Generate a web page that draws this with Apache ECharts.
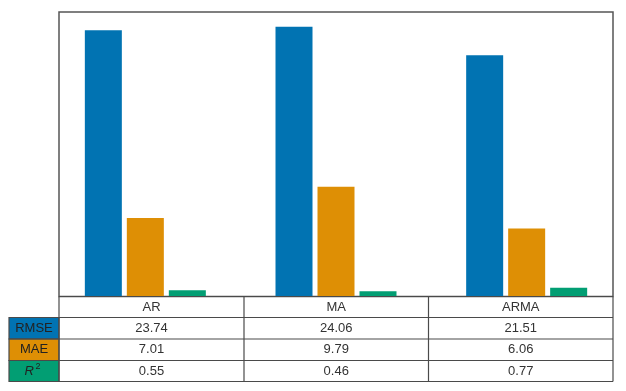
<!DOCTYPE html>
<html>
<head>
<meta charset="utf-8">
<script src="https://cdn.jsdelivr.net/npm/echarts@6/dist/echarts.min.js"></script>
<style>
  html, body { margin: 0; padding: 0; background: #fff; }
  #chart { width: 626px; height: 391px; }
</style>
</head>
<body>
<div id="chart"></div>
<script>
// model comparison: bars per error metric, with a data table underneath
var categories = ["AR", "MA", "ARMA"];
var metricNames = ["RMSE", "MAE", "R2"];
var rmse = [23.74, 24.06, 21.51];
var mae = [7.01, 9.79, 6.06];
var r2 = [0.55, 0.46, 0.77];

var colors = ["#0173b2", "#de8f05", "#029e73"];
var lineCol = "#4a4a4a";
var font = "'Liberation Sans', Arial, sans-serif";

// table geometry (px)
var colX = [59, 244, 428.5, 613];
var rowY = [296.5, 317.5, 339, 360.5, 381.5];
var labX = 9;

function tableGraphic() {
  var g = [];
  var series = [rmse, mae, r2];
  // coloured label cells
  metricNames.forEach(function (m, i) {
    g.push({ type: "rect", shape: { x: labX, y: rowY[i + 1], width: colX[0] - labX, height: rowY[i + 2] - rowY[i + 1] },
      style: { fill: colors[i], stroke: lineCol, lineWidth: 1.2 }, z: 10 });
  });
  // horizontal lines
  rowY.forEach(function (y, i) {
    g.push({ type: "line", shape: { x1: i === 0 ? colX[0] : labX, y1: y, x2: colX[3], y2: y },
      style: { stroke: lineCol, lineWidth: 1.2 }, z: 11 });
  });
  // vertical lines
  colX.forEach(function (x) {
    g.push({ type: "line", shape: { x1: x, y1: rowY[0], x2: x, y2: rowY[4] },
      style: { stroke: lineCol, lineWidth: 1.2 }, z: 11 });
  });
  // header + values
  categories.forEach(function (c, j) {
    var cx = (colX[j] + colX[j + 1]) / 2;
    g.push({ type: "text", x: cx, y: (rowY[0] + rowY[1]) / 2, z: 12,
      style: { text: c, fill: "#333", font: "13px " + font, align: "center", verticalAlign: "middle" } });
    series.forEach(function (s, i) {
      g.push({ type: "text", x: cx, y: (rowY[i + 1] + rowY[i + 2]) / 2, z: 12,
        style: { text: s[j].toFixed(2), fill: "#333", font: "13px " + font, align: "center", verticalAlign: "middle" } });
    });
  });
  // row labels
  var lx = (labX + colX[0]) / 2;
  ["RMSE", "MAE"].forEach(function (m, i) {
    g.push({ type: "text", x: lx, y: (rowY[i + 1] + rowY[i + 2]) / 2, z: 12,
      style: { text: m, fill: "#222", font: "13px " + font, align: "center", verticalAlign: "middle" } });
  });
  var ry = (rowY[3] + rowY[4]) / 2;
  g.push({ type: "text", x: 34, y: ry + 0.5, z: 12,
    style: { text: "R", fill: "#222", font: "italic 13px " + font, align: "right", verticalAlign: "middle" } });
  g.push({ type: "text", x: 35.5, y: ry - 4, z: 12,
    style: { text: "2", fill: "#222", font: "9px " + font, align: "left", verticalAlign: "middle" } });
  return g;
}

var chart = echarts.init(document.getElementById("chart"), null, { renderer: "canvas" });
chart.setOption({
  animation: false,
  grid: [
    { left: 50, top: 12, width: 572, height: 284.5 },
    { left: 59, top: 12, width: 554, height: 284.5, show: true, borderColor: "#555", borderWidth: 1.5, backgroundColor: "transparent" }
  ],
  xAxis: [
    { type: "category", data: categories, gridIndex: 0, show: false },
    { type: "value", gridIndex: 1, show: false }
  ],
  yAxis: [
    { type: "value", min: 0, max: 25.37, gridIndex: 0, show: false },
    { type: "value", gridIndex: 1, show: false }
  ],
  series: [
    { name: "RMSE", type: "bar", data: rmse, barWidth: 37, barGap: "13.5%", itemStyle: { color: colors[0] } },
    { name: "MAE", type: "bar", data: mae, barWidth: 37, barGap: "13.5%", itemStyle: { color: colors[1] } },
    { name: "R2", type: "bar", data: r2, barWidth: 37, barGap: "13.5%", itemStyle: { color: colors[2] } }
  ],
  graphic: tableGraphic()
});
</script>
</body>
</html>
